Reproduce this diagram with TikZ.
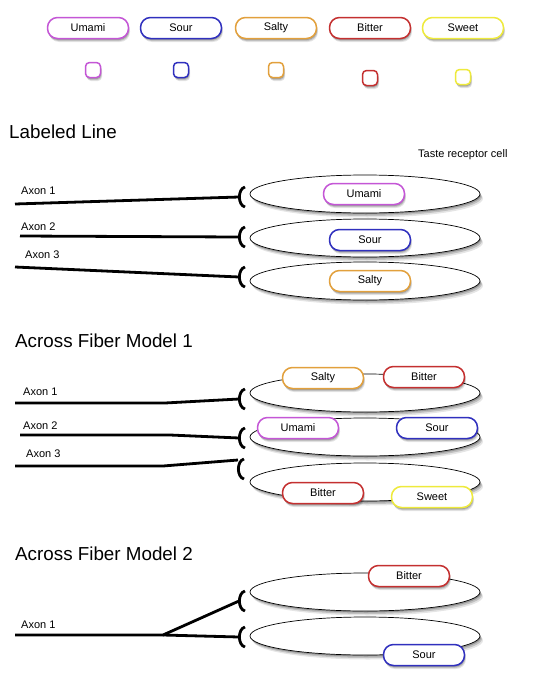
\documentclass[tikz,border=0pt]{standalone}
\usepackage{fontspec}
\setmainfont{Liberation Sans}
\usetikzlibrary{shapes.geometric}
\definecolor{umami}{RGB}{196,86,214}
\definecolor{sour}{RGB}{48,48,190}
\definecolor{salty}{RGB}{226,160,60}
\definecolor{bitter}{RGB}{196,48,48}
\definecolor{sweet}{RGB}{238,234,60}
\begin{document}
\begin{tikzpicture}[x=1pt,y=-1pt,
  softshadow/.style={
    preaction={draw=none, fill=black, opacity=0.10, transform canvas={xshift=1.5pt,yshift=-3.5pt}},
    preaction={draw=none, fill=black, opacity=0.14, transform canvas={xshift=1pt,yshift=-2.5pt}},
    preaction={draw=none, fill=black, opacity=0.18, transform canvas={xshift=0.5pt,yshift=-1.5pt}}},
  cellshadow/.style={
    preaction={draw=none, fill=black, opacity=0.10, transform canvas={xshift=3pt,yshift=-4.5pt}},
    preaction={draw=none, fill=black, opacity=0.16, transform canvas={xshift=2pt,yshift=-3pt}},
    preaction={draw=none, fill=black, opacity=0.22, transform canvas={xshift=1pt,yshift=-1.5pt}}},
  pill/.style={draw=#1, line width=1.5pt, rounded corners=10pt, fill=white,
    minimum width=81pt, minimum height=21pt, inner sep=0pt,
    font=\fontsize{11}{13}\selectfont, softshadow},
  chip/.style={draw=#1, line width=1.5pt, rounded corners=4pt, fill=white,
    minimum size=15pt, inner sep=0pt, softshadow},
  cell/.style={ellipse, draw, line width=0.7pt, fill=white,
    minimum width=230pt, minimum height=38pt, inner sep=0pt, cellshadow},
  axon/.style={line width=2.8pt, line join=round},
  capline/.style={line width=2.8pt},
  lbl/.style={anchor=base west, inner sep=0pt, font=\fontsize{11}{13}\selectfont},
  ttl/.style={anchor=base west, inner sep=0pt, font=\fontsize{18.8}{22}\selectfont},
  synapse/.pic={\draw[capline] (6,-10) .. controls (-1.5,-8) and (-1.5,8) .. (6,10);}
]
\useasboundingbox (0,0) rectangle (553,691);
\fill[white] (0,0) rectangle (553,691);

% legend
\node[pill=umami] (lu) at (88,28) {Umami};
\node[pill=sour] (ls) at (181,28) {Sour};
\node[pill=salty] (lsa) at (276,28) {Salty};
\node[pill=bitter] (lb) at (370,28) {Bitter};
\node[pill=sweet] (lsw) at (463,28) {Sweet};
\node[chip=umami] (cu) at (93,70) {};
\node[chip=sour] (cs) at (181,70) {};
\node[chip=salty] (csa) at (276,70) {};
\node[chip=bitter] (cb) at (370,78) {};
\node[chip=sweet] (csw) at (463,77) {};

% Labeled line
\node[ttl] (t1) at (9,138) {Labeled Line};
\node[lbl] (trc) at (418,157) {Taste receptor cell};
\node[cell] (e1) at (365,194) {};
\node[cell] (e2) at (365,238) {};
\node[cell] (e3) at (365,281) {};
\node[pill=umami] (p1) at (364,194) {Umami};
\node[pill=sour] (p2) at (370,240) {Sour};
\node[pill=salty] (p3) at (370,281) {Salty};
\node[lbl] (x1) at (21,194) {Axon 1};
\node[lbl] (x2) at (21,230) {Axon 2};
\node[lbl] (x3) at (25,258) {Axon 3};
\coordinate (a1) at (15,204); \coordinate (s1) at (239,197);
\coordinate (a2) at (20,236); \coordinate (s2) at (239,237);
\coordinate (a3) at (15,267); \coordinate (s3) at (239,277);
\draw[axon] (a1) -- (s1);
\draw[axon] (a2) -- (s2);
\draw[axon] (a3) -- (s3);
\pic at (s1) {synapse};
\pic at (s2) {synapse};
\pic at (s3) {synapse};

% Across Fiber Model 1
\node[ttl] (t2) at (15,347) {Across Fiber Model 1};
\node[cell] (e4) at (365,393) {};
\node[cell] (e5) at (365,437) {};
\node[cell] (e6) at (365,482) {};
\node[pill=salty] (p4) at (323,378) {Salty};
\node[pill=bitter] (p5) at (424,377) {Bitter};
\node[pill=umami] (p6) at (298,428) {Umami};
\node[pill=sour] (p7) at (437,428) {Sour};
\node[pill=bitter] (p8) at (323,493) {Bitter};
\node[pill=sweet] (p9) at (432,497) {Sweet};
\node[lbl] (x4) at (23,395) {Axon 1};
\node[lbl] (x5) at (23,429) {Axon 2};
\node[lbl] (x6) at (26,457) {Axon 3};
\coordinate (b1) at (15,403); \coordinate (k1) at (165,403); \coordinate (s4) at (239,399);
\coordinate (b2) at (20,435); \coordinate (k2) at (170,435); \coordinate (s5) at (239,438);
\coordinate (b3) at (15,466); \coordinate (k3) at (163,466); \coordinate (j3) at (238,460);
\coordinate (s6) at (238,469);
\draw[axon] (b1) -- (k1) -- (s4);
\draw[axon] (b2) -- (k2) -- (s5);
\draw[axon] (b3) -- (k3) -- (j3);
\pic at (s4) {synapse};
\pic at (s5) {synapse};
\pic at (s6) {synapse};

% Across Fiber Model 2
\node[ttl] (t3) at (15,560) {Across Fiber Model 2};
\node[cell] (e7) at (365,592) {};
\node[cell] (e8) at (365,636) {};
\node[pill=bitter] (p10) at (409,576) {Bitter};
\node[pill=sour] (p11) at (424,655) {Sour};
\node[lbl] (x7) at (21,628) {Axon 1};
\coordinate (c0) at (15,635); \coordinate (fork) at (163,635);
\coordinate (s7) at (239,601); \coordinate (s8) at (239,637);
\draw[axon] (c0) -- (fork) -- (s7);
\draw[axon] (fork) -- (s8);
\pic at (s7) {synapse};
\pic at (s8) {synapse};
\end{tikzpicture}
\end{document}
